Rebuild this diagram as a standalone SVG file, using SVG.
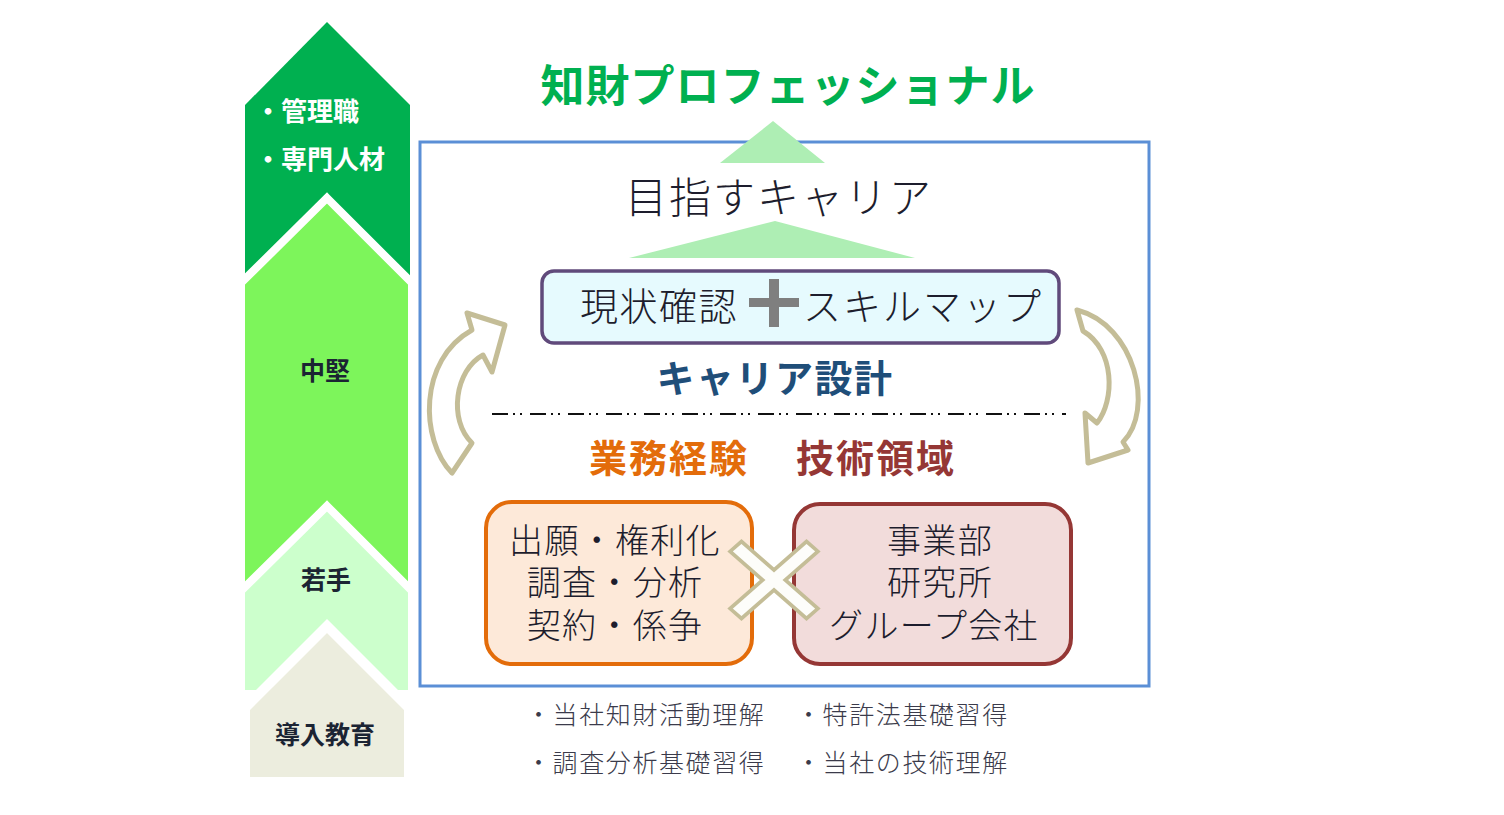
<svg xmlns="http://www.w3.org/2000/svg" width="1504" height="815" viewBox="0 0 1504 815">
<style>
.jp{font-family:"Noto Sans CJK JP","Noto Sans CJK SC",sans-serif;}
.lbl{font-size:25px;font-weight:700;fill:#1b2433;text-anchor:middle;}
.wlbl{font-size:26px;font-weight:700;fill:#ffffff;}
.thin{font-weight:300;fill:#1d1d2d;}
.box{font-size:34px;letter-spacing:1.3px;text-anchor:middle;}
.foot{font-size:25px;font-weight:300;fill:#3b3b4b;letter-spacing:1.6px;}
.curv{fill:#ffffff;stroke:#c4bd97;stroke-width:5;stroke-linejoin:round;}
</style>
<rect x="0" y="0" width="1504" height="815" fill="#ffffff"/>

<g id="level-column">
  <polygon points="327,22 410,105 410,300 245,300 245,105" fill="#00b050"/>
  <polygon points="327,198 412,283 412,600 241,600 241,283" fill="#7df55b" stroke="#ffffff" stroke-width="8"/>
  <polygon points="327,506 412,591 412,694 241,694 241,591" fill="#ccffcc" stroke="#ffffff" stroke-width="8"/>
  <polygon points="327,626 409,708 409,782 245,782 245,708" fill="#ecedde" stroke="#ffffff" stroke-width="10"/>
</g>
<g id="label-manager">
  <text class="jp wlbl" x="255" y="121">・管理職</text>
  <text class="jp wlbl" x="255" y="169">・専門人材</text>
</g>
<g id="label-mid"><text class="jp lbl" x="325" y="380">中堅</text></g>
<g id="label-young"><text class="jp lbl" x="326" y="589">若手</text></g>
<g id="label-intro"><text class="jp lbl" x="325" y="744">導入教育</text></g>

<g id="title">
  <text class="jp" x="788" y="102" font-size="44" font-weight="700" fill="#00b050" letter-spacing="1" text-anchor="middle">知財プロフェッショナル</text>
</g>

<g id="frame">
  <rect x="420" y="142" width="729" height="544" fill="none" stroke="#5b8fd6" stroke-width="3"/>
</g>

<g id="triangles">
  <polygon points="773,121 825,163 720,163" fill="#aeeeb4"/>
  <polygon points="775,221 915,258 629,258" fill="#aeeeb4"/>
</g>

<g id="goal-career">
  <text class="jp thin" x="779" y="213" font-size="42" letter-spacing="2" text-anchor="middle">目指すキャリア</text>
</g>

<g id="status-skillmap">
  <rect x="542" y="271" width="517" height="72" rx="12" fill="#e6fafe" stroke="#604a7b" stroke-width="3.5"/>
  <text class="jp thin" x="580" y="320" font-size="38" letter-spacing="1.5">現状確認</text>
  <rect x="749" y="298" width="50" height="9" fill="#7f7f7f"/>
  <rect x="769" y="279" width="10" height="48" fill="#7f7f7f"/>
  <text class="jp thin" x="803" y="320" font-size="38" letter-spacing="2">スキルマップ</text>
</g>

<g id="career-design">
  <text class="jp" x="775" y="392" font-size="38" font-weight="700" fill="#1f4e79" letter-spacing="1.5" text-anchor="middle">キャリア設計</text>
</g>

<g id="connectors">
  <line x1="492" y1="414" x2="1066" y2="414" stroke="#111111" stroke-width="2" stroke-dasharray="16 5 2 5 2 8"/>
  <path class="curv" d="M472,330 L467,313 L505,325 L492,372 L483,355 C455,370 448,420 472,443 L452,473 C420,440 418,360 472,330 Z"/>
  <path class="curv" d="M1077,310 C1135,325 1155,410 1123,442 L1128,450 L1088,463 L1085,413 L1097,423 C1115,400 1115,350 1083,331 Z"/>
</g>

<g id="work-experience">
  <text class="jp" x="589" y="472" font-size="38" font-weight="700" fill="#e36c0a" letter-spacing="2">業務経験</text>
  <rect x="486" y="502" width="266" height="162" rx="26" fill="#fde9d9" stroke="#e36c0a" stroke-width="4"/>
  <text class="jp thin box" x="615" y="553">出願・権利化</text>
  <text class="jp thin box" x="615" y="595">調査・分析</text>
  <text class="jp thin box" x="615" y="638">契約・係争</text>
</g>

<g id="tech-domain">
  <text class="jp" x="796" y="472" font-size="38" font-weight="700" fill="#953735" letter-spacing="2">技術領域</text>
  <rect x="794" y="504" width="277" height="160" rx="26" fill="#f2dcdb" stroke="#953735" stroke-width="4"/>
  <text class="jp thin box" x="940" y="553">事業部</text>
  <text class="jp thin box" x="940" y="595">研究所</text>
  <text class="jp thin box" x="934" y="638">グループ会社</text>
</g>

<g id="cross">
  <g transform="translate(774,580) scale(1,0.88) rotate(45)">
    <polygon points="-8,-54 8,-54 8,-8 54,-8 54,8 8,8 8,54 -8,54 -8,8 -54,8 -54,-8 -8,-8" fill="#fdfdfa" stroke="#c4bd97" stroke-width="4" stroke-linejoin="miter"/>
  </g>
</g>

<g id="foot-notes">
  <text class="jp foot" x="526" y="724">・当社知財活動理解</text>
  <text class="jp foot" x="796" y="724">・特許法基礎習得</text>
  <text class="jp foot" x="526" y="772">・調査分析基礎習得</text>
  <text class="jp foot" x="796" y="772">・当社の技術理解</text>
</g>
</svg>
